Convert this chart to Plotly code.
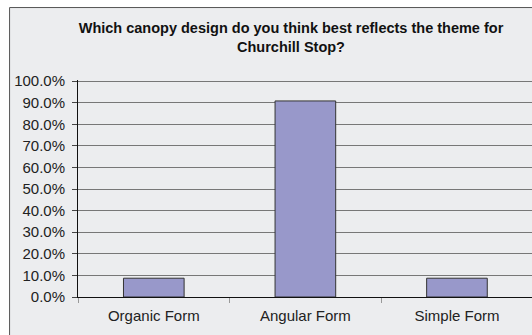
import plotly.graph_objects as go

# Survey responses (percent of respondents)
categories = ["Organic Form", "Angular Form", "Simple Form"]
shares = [8.7, 90.8, 8.7]
tick_values = [0, 10, 20, 30, 40, 50, 60, 70, 80, 90, 100]
tick_labels = [f"{v:.1f}%" for v in tick_values]
title_text = "Which canopy design do you think best reflects the theme for<br>Churchill Stop?"

W, H = 532, 335
left, right, top, bottom = 77.5, 0, 79.6, 38
plot_w = W - left - right
plot_h = H - top - bottom

fig = go.Figure(
    go.Bar(
        x=categories,
        y=shares,
        marker=dict(color="#9898CA", line=dict(color="#333333", width=1)),
    )
)

# light grey chart area with a dark frame
fig.add_shape(
    type="rect",
    xref="paper", yref="paper",
    x0=(9 - left) / plot_w, x1=1.2,
    y0=-0.3, y1=1 + (top - 7) / plot_h,
    fillcolor="#ECEDEF",
    line=dict(color="#555555", width=1),
    layer="below",
)

fig.update_layout(
    width=W, height=H,
    margin=dict(l=left, r=right, t=top, b=bottom, pad=0),
    paper_bgcolor="white",
    plot_bgcolor="rgba(0,0,0,0)",
    bargap=0.6,
    showlegend=False,
    font=dict(family="Liberation Sans, Arial, sans-serif", size=15, color="#222222"),
    title=dict(
        text=title_text,
        x=291 / W, xanchor="center", xref="container",
        y=1 - 33 / H, yanchor="middle", yref="container",
        font=dict(family="Liberation Sans, Arial, sans-serif", size=14.5, color="#111111", weight="bold"),
    ),
    xaxis=dict(
        range=[-0.5, 2.495],
        showline=True, linecolor="#111111", linewidth=1,
        ticks="outside", tickson="boundaries", ticklen=5, tickcolor="#999999",
        showgrid=False,
        tickfont=dict(size=15, color="#222222"),
        ticklabelstandoff=5,
    ),
    yaxis=dict(
        range=[0, 100.5],
        tickvals=tick_values, ticktext=tick_labels,
        showline=True, linecolor="#111111", linewidth=1,
        ticks="outside", ticklen=5, tickcolor="#444444",
        showgrid=True, gridcolor="#777777", gridwidth=1,
        zeroline=False,
        tickfont=dict(size=15, color="#222222"),
        ticklabelstandoff=4,
    ),
)

fig.write_html("out.html")
